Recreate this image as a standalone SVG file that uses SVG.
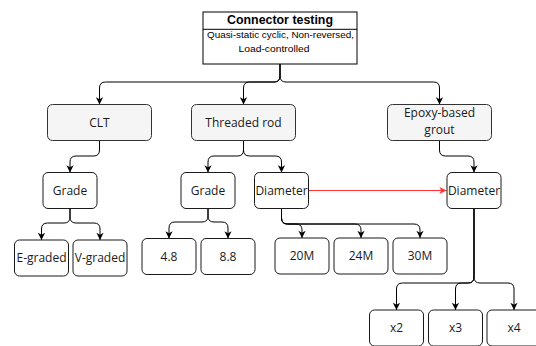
<svg xmlns="http://www.w3.org/2000/svg" width="536" height="346" viewBox="0 0 536 346">
<style>
.box{fill:#ffffff;stroke:#1a1a1a;stroke-width:1}
.box1{fill:#f5f5f5;stroke:#333333;stroke-width:1}
.t{font-family:"Open Sans","Noto Sans",sans-serif;font-size:12px;fill:#1a1a1a;text-anchor:middle}
.title{font-family:"Liberation Sans",Arial,sans-serif;font-weight:bold;font-size:13px;fill:#000;text-anchor:middle}
.sub{font-family:"Liberation Sans",Arial,sans-serif;font-size:9px;fill:#000;text-anchor:middle}
.e{fill:none;stroke:#000;stroke-width:1}
.red{fill:none;stroke:#ff3333;stroke-width:1}
</style>
<defs>
<marker id="arr" viewBox="0 0 10 10" refX="9.5" refY="5" markerWidth="8" markerHeight="8" markerUnits="userSpaceOnUse" orient="auto">
<path d="M0.5,0.5 L9.5,5 L0.5,9.5 L3,5 z" fill="#000"/>
</marker>
<marker id="arrR" viewBox="0 0 10 10" refX="9.5" refY="5" markerWidth="8" markerHeight="8" markerUnits="userSpaceOnUse" orient="auto">
<path d="M0.5,0.5 L9.5,5 L0.5,9.5 L3,5 z" fill="#ff3333"/>
</marker>
</defs>

<g id="connectors">
<path class="e" marker-end="url(#arr)" d="M280,64 V76 Q280,82 274,82 H105.5 Q99.5,82 99.5,88 V104.5"/>
<path class="e" marker-end="url(#arr)" d="M280,64 V76 Q280,82 274,82 H249.5 Q243.5,82 243.5,88 V104.5"/>
<path class="e" marker-end="url(#arr)" d="M280,64 V76 Q280,82 286,82 H433.5 Q439.5,82 439.5,88 V104.5"/>

<path class="e" marker-end="url(#arr)" d="M99.5,140.5 V150 Q99.5,156 93.5,156 H76 Q70,156 70,162 V172.5"/>
<path class="e" marker-end="url(#arr)" d="M243.5,140.5 V150 Q243.5,156 237.5,156 H214 Q208,156 208,162 V172.5"/>
<path class="e" marker-end="url(#arr)" d="M243.5,140.5 V150 Q243.5,156 249.5,156 H275.5 Q281.5,156 281.5,162 V172.5"/>
<path class="e" marker-end="url(#arr)" d="M439.5,140.5 V150 Q439.5,156 445.5,156 H468 Q474,156 474,162 V172.5"/>

<path class="e" marker-end="url(#arr)" d="M70,208.5 V217 Q70,223 64,223 H47.5 Q41.5,223 41.5,229 V240"/>
<path class="e" marker-end="url(#arr)" d="M70,208.5 V217 Q70,223 76,223 H94 Q100,223 100,229 V240"/>

<path class="e" marker-end="url(#arr)" d="M208,208.5 V216 Q208,222 202,222 H175 Q169,222 169,228 V238.5"/>
<path class="e" marker-end="url(#arr)" d="M208,208.5 V216 Q208,222 214,222 H222 Q228,222 228,228 V238.5"/>

<path class="e" marker-end="url(#arr)" d="M281.5,208.5 V218 Q281.5,224 287.5,224 H296 Q302,224 302,230 V238"/>
<path class="e" marker-end="url(#arr)" d="M281.5,208.5 V218 Q281.5,224 287.5,224 H355 Q361,224 361,230 V238"/>
<path class="e" marker-end="url(#arr)" d="M281.5,208.5 V218 Q281.5,224 287.5,224 H414 Q420,224 420,230 V238"/>

<path class="e" marker-end="url(#arr)" d="M474,208.5 V277 Q474,283 468,283 H402.5 Q396.5,283 396.5,289 V310"/>
<path class="e" marker-end="url(#arr)" d="M474,208.5 V277 Q474,283 468,283 H461.5 Q455.5,283 455.5,289 V310"/>
<path class="e" marker-end="url(#arr)" d="M474,208.5 V277 Q474,283 480,283 H508 Q514,283 514,289 V310"/>

<path class="red" marker-end="url(#arrR)" d="M309,190.5 H446.5"/>
</g>

<g id="connector-testing">
<rect x="203" y="12" width="154" height="52" fill="#ffffff" stroke="#000" stroke-width="1"/>
<line x1="203" y1="29.3" x2="357" y2="29.3" stroke="#000" stroke-width="1"/>
<text class="title" x="280" y="24" textLength="106" lengthAdjust="spacingAndGlyphs">Connector testing</text>
<text class="sub" x="280.5" y="38" textLength="147" lengthAdjust="spacingAndGlyphs">Quasi-static cyclic, Non-reversed,</text>
<text class="sub" x="274" y="51.5" textLength="71" lengthAdjust="spacingAndGlyphs">Load-controlled</text>
</g>

<g id="clt">
<rect class="box1" x="47.5" y="104.5" width="104" height="36" rx="5"/>
<text class="t" x="99.5" y="126.8">CLT</text>
</g>
<g id="threaded-rod">
<rect class="box1" x="191.5" y="104.5" width="104" height="36" rx="5"/>
<text class="t" x="243.5" y="126.8">Threaded rod</text>
</g>
<g id="epoxy">
<rect class="box1" x="387.5" y="104.5" width="104" height="36" rx="5"/>
<text class="t" x="439.5" y="117.3">Epoxy-based</text>
<text class="t" x="439.5" y="133.8">grout</text>
</g>

<g id="clt-grade">
<rect class="box" x="43" y="172.5" width="54" height="36" rx="5"/>
<text class="t" x="70" y="194.8">Grade</text>
</g>
<g id="rod-grade">
<rect class="box" x="181" y="172.5" width="54" height="36" rx="5"/>
<text class="t" x="208" y="194.8">Grade</text>
</g>
<g id="rod-diameter">
<rect class="box" x="254.5" y="172.5" width="54" height="36" rx="5"/>
<text class="t" x="281.5" y="194.8">Diameter</text>
</g>
<g id="epoxy-diameter">
<rect class="box" x="447" y="172.5" width="54" height="36" rx="5"/>
<text class="t" x="474" y="194.8">Diameter</text>
</g>

<g id="e-graded">
<rect class="box" x="14.5" y="240" width="54" height="36" rx="5"/>
<text class="t" x="41.5" y="262.3">E-graded</text>
</g>
<g id="v-graded">
<rect class="box" x="73" y="240" width="54" height="36" rx="5"/>
<text class="t" x="100" y="262.3">V-graded</text>
</g>
<g id="g48">
<rect class="box" x="142" y="238.5" width="54" height="36" rx="5"/>
<text class="t" x="169" y="260.8">4.8</text>
</g>
<g id="g88">
<rect class="box" x="201" y="238.5" width="54" height="36" rx="5"/>
<text class="t" x="228" y="260.8">8.8</text>
</g>
<g id="d20">
<rect class="box" x="275" y="238" width="54" height="36" rx="5"/>
<text class="t" x="302" y="260.3">20M</text>
</g>
<g id="d24">
<rect class="box" x="334" y="238" width="54" height="36" rx="5"/>
<text class="t" x="361" y="260.3">24M</text>
</g>
<g id="d30">
<rect class="box" x="393" y="238" width="54" height="36" rx="5"/>
<text class="t" x="420" y="260.3">30M</text>
</g>
<g id="x2">
<rect class="box" x="369.5" y="310" width="54" height="36" rx="5"/>
<text class="t" x="396.5" y="332.3">x2</text>
</g>
<g id="x3">
<rect class="box" x="428.5" y="310" width="54" height="36" rx="5"/>
<text class="t" x="455.5" y="332.3">x3</text>
</g>
<g id="x4">
<rect class="box" x="487" y="310" width="54" height="36" rx="5"/>
<text class="t" x="514" y="332.3">x4</text>
</g>
</svg>
